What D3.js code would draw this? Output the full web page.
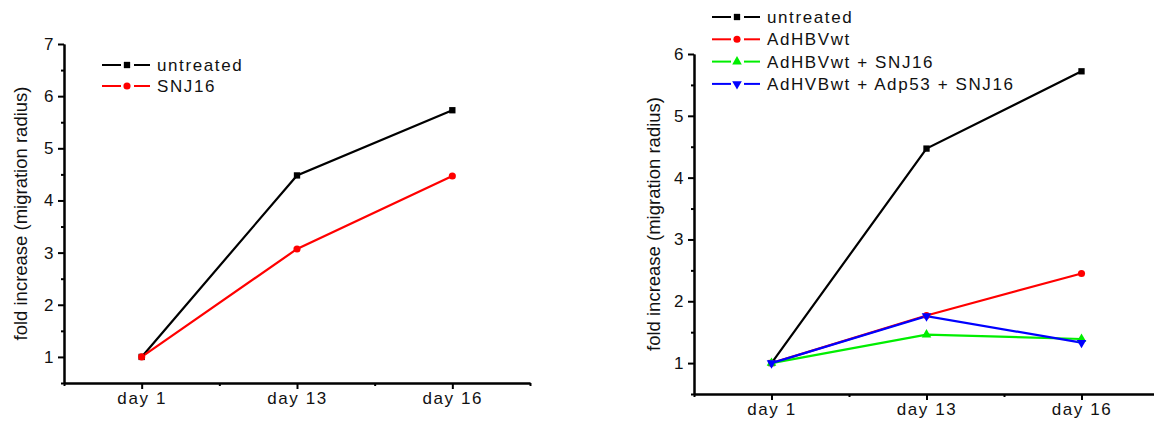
<!DOCTYPE html>
<html>
<head>
<meta charset="utf-8">
<script src="https://cdn.jsdelivr.net/npm/d3@7"></script>
<style>
  body { margin: 0; background: #fff; }
  svg { display: block; font-family: Arial, "Liberation Sans", sans-serif; }
  .axis path, .axis line { stroke: #000; stroke-width: 2; }
  .axis text { font-size: 17px; fill: #111; letter-spacing: 1.6px; }
  .legend text { font-size: 17px; fill: #111; letter-spacing: 1.6px; }
  .ylabel { font-size: 18.5px; fill: #111; }
</style>
</head>
<body>
<script>
// categories on the x axis
const days = ['day 1', 'day 13', 'day 16'];

// left panel
const leftUntreated = [1, 4.48, 5.73];
const leftSNJ16 = [1, 3.07, 4.47];

// right panel
const rightUntreated = [1, 4.47, 5.72];
const rightAdHBVwt = [1, 1.77, 2.45];
const rightAdHBVwtSNJ16 = [1, 1.46, 1.39];
const rightAdHVBwtAdp53SNJ16 = [1, 1.76, 1.33];

const leftTicks = [1, 2, 3, 4, 5, 6, 7];
const rightTicks = [1, 2, 3, 4, 5, 6];

const width = 1154;
const height = 421;

const svg = d3.select('body').append('svg')
    .attr('width', width)
    .attr('height', height);

const markers = {
    square: d3.symbol().type(d3.symbolSquare).size(40),
    circle: d3.symbol().type(d3.symbolCircle).size(40),
    up: d3.symbol().type(d3.symbolTriangle).size(40),
    down: d3.symbol().type(d3.symbolTriangle).size(40)
};

function drawPanel(cfg) {
    const x = d3.scaleLinear().domain([0.5, 3.5]).range(cfg.xRange);
    const y = d3.scaleLinear().domain([0.5, cfg.yMax]).range(cfg.yRange);
    const g = svg.append('g');

    // minor ticks first, then major axis on top
    const minorY = d3.range(0.5, cfg.yMax, 1);
    g.append('g').attr('class', 'axis')
        .attr('transform', `translate(${cfg.xRange[0]},0)`)
        .call(d3.axisLeft(y).tickValues(minorY).tickSize(3).tickSizeOuter(0).tickFormat(''));
    g.append('g').attr('class', 'axis')
        .attr('transform', `translate(${cfg.xRange[0]},0)`)
        .call(d3.axisLeft(y).tickValues(cfg.ticks).tickSizeOuter(0).tickFormat(d3.format('d')));

    g.append('g').attr('class', 'axis')
        .attr('transform', `translate(0,${cfg.yRange[0]})`)
        .call(d3.axisBottom(x).tickValues([0.5, 1.5, 2.5, 3.5]).tickSize(3).tickSizeOuter(0).tickFormat(''));
    g.append('g').attr('class', 'axis')
        .attr('transform', `translate(0,${cfg.yRange[0]})`)
        .call(d3.axisBottom(x).tickValues([1, 2, 3]).tickSizeOuter(0).tickFormat((d) => days[d - 1]));

    const mid = (cfg.yRange[0] + cfg.yRange[1]) / 2;
    g.append('text')
        .attr('class', 'ylabel')
        .attr('transform', `translate(${cfg.labelX},${mid}) rotate(-90)`)
        .attr('text-anchor', 'middle')
        .attr('dy', '0.35em')
        .text('fold increase (migration radius)');

    const line = d3.line().x((d, i) => x(i + 1)).y((d) => y(d));

    cfg.series.forEach((s) => {
        g.append('path')
            .datum(s.values)
            .attr('fill', 'none')
            .attr('stroke', s.color)
            .attr('stroke-width', 2.2)
            .attr('d', line);
    });
    cfg.series.forEach((s) => {
        g.selectAll(null)
            .data(s.values)
            .enter().append('path')
            .attr('d', markers[s.marker])
            .attr('fill', s.color)
            .attr('transform', (d, i) => `translate(${x(i + 1)},${y(d)})${s.marker === 'down' ? ' rotate(180)' : ''}`);
    });

    // Legend
    const lg = g.append('g').attr('class', 'legend')
        .attr('transform', `translate(${cfg.legendX},${cfg.legendY})`);
    cfg.series.forEach((s, idx) => {
        const le = lg.append('g').attr('transform', `translate(0,${idx * cfg.legendStep})`);
        le.append('line').attr('x1', 0).attr('x2', 19).attr('stroke', s.color).attr('stroke-width', 2);
        le.append('line').attr('x1', 32).attr('x2', 48).attr('stroke', s.color).attr('stroke-width', 2);
        le.append('path')
            .attr('d', markers[s.marker])
            .attr('fill', s.color)
            .attr('transform', `translate(25,0)${s.marker === 'down' ? ' rotate(180)' : ''}`);
        le.append('text')
            .attr('x', 55)
            .attr('dy', '0.35em')
            .text(s.label);
    });
}

drawPanel({
    xRange: [64, 530],
    yRange: [383, 44],
    yMax: 7,
    ticks: leftTicks,
    labelX: 21,
    legendX: 102,
    legendY: 65,
    legendStep: 21,
    series: [
        { label: 'untreated', values: leftUntreated, color: '#000', marker: 'square' },
        { label: 'SNJ16', values: leftSNJ16, color: '#ff0000', marker: 'circle' }
    ]
});

drawPanel({
    xRange: [694, 1159],
    yRange: [394, 54],
    yMax: 6,
    ticks: rightTicks,
    labelX: 654,
    legendX: 712,
    legendY: 17,
    legendStep: 22.3,
    series: [
        { label: 'untreated', values: rightUntreated, color: '#000', marker: 'square' },
        { label: 'AdHBVwt', values: rightAdHBVwt, color: '#ff0000', marker: 'circle' },
        { label: 'AdHBVwt + SNJ16', values: rightAdHBVwtSNJ16, color: '#00ee00', marker: 'up' },
        { label: 'AdHVBwt + Adp53 + SNJ16', values: rightAdHVBwtAdp53SNJ16, color: '#0000ff', marker: 'down' }
    ]
});
</script>
</body>
</html>
